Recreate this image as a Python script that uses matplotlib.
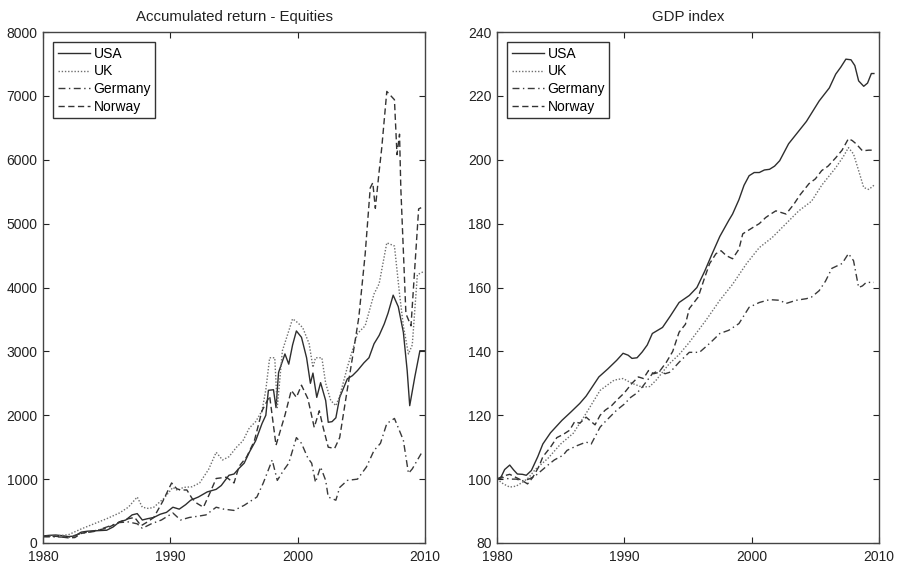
import matplotlib
matplotlib.use("Agg")
import matplotlib.pyplot as plt

plt.rcParams['font.family'] = ['Liberation Sans', 'DejaVu Sans']

# ---------------- Accumulated return - Equities ----------------
usa_eq_years = [1980, 1980.5, 1981, 1981.5, 1982, 1982.5, 1983, 1983.5, 1984, 1984.5, 1985, 1985.5,
                1986, 1986.5, 1987, 1987.4, 1987.8, 1988.2, 1988.7, 1989.2, 1989.7, 1990.2, 1990.7,
                1991.2, 1991.6, 1992.2, 1992.9, 1993.6, 1994, 1994.6, 1995, 1995.4, 1995.8, 1996.2,
                1996.7, 1997.2, 1997.5, 1997.7, 1998.1, 1998.3, 1998.5, 1999.0, 1999.3, 1999.6, 1999.9,
                2000.3, 2000.7, 2001.0, 2001.2, 2001.5, 2001.8, 2002.2, 2002.4, 2002.7, 2003.0, 2003.3,
                2003.9, 2004.3, 2004.7, 2005.2, 2005.6, 2006.0, 2006.4, 2006.8, 2007.1, 2007.5, 2007.9,
                2008.3, 2008.6, 2008.8, 2009.2, 2009.6, 2010]
usa_eq = [110, 120, 125, 115, 100, 110, 170, 185, 190, 195, 200, 250,
          330, 360, 440, 460, 360, 380, 400, 450, 480, 560, 530,
          600, 670, 720, 800, 840, 900, 1060, 1080, 1170, 1250, 1420,
          1600, 1870, 2000, 2390, 2400, 2120, 2670, 2960, 2800, 3100, 3320,
          3220, 2900, 2500, 2660, 2280, 2510, 2230, 1890, 1900, 1960, 2280,
          2570, 2620, 2700, 2820, 2900, 3120, 3250, 3430, 3600, 3880, 3700,
          3300, 2700, 2150, 2600, 3010, 3010]

uk_eq_years = [1980, 1981, 1982, 1983, 1984, 1985, 1986, 1986.7, 1987.4, 1987.8, 1988.3, 1988.7,
               1989.5, 1990.2, 1990.6, 1991.0, 1991.7, 1992.3, 1993.0, 1993.6, 1994.1, 1994.6, 1995.2,
               1995.7, 1996.2, 1996.7, 1997.2, 1997.5, 1997.8, 1998.2, 1998.4, 1998.8, 1999.3, 1999.6,
               2000.0, 2000.4, 2000.9, 2001.2, 2001.4, 2001.9, 2002.2, 2002.6, 2003.0, 2003.3, 2003.9,
               2004.7, 2005.3, 2006.0, 2006.4, 2007.0, 2007.6, 2008.0, 2008.3, 2008.7, 2009.0, 2009.4,
               2009.9]
uk_eq = [100, 110, 130, 220, 300, 380, 470, 560, 720, 560, 540, 560,
         700, 870, 820, 870, 880, 940, 1150, 1420, 1300, 1350, 1500,
         1600, 1800, 1900, 2070, 2400, 2900, 2900, 2120, 3010, 3320, 3510,
         3450, 3370, 3120, 2750, 2900, 2900, 2500, 2230, 2150, 2300, 2750,
         3280, 3400, 3900, 4060, 4700, 4650, 3900, 3400, 2960, 3100, 4200,
         4250]

germany_eq_years = [1980, 1981, 1982, 1983, 1984, 1985, 1986, 1986.7, 1987.4, 1987.8, 1988.5, 1989.3,
                    1990.2, 1990.8, 1991.5, 1992.2, 1992.8, 1993.6, 1994.2, 1995.0, 1995.8, 1996.8,
                    1997.3, 1998.0, 1998.4, 1998.9, 1999.3, 1999.9, 2000.3, 2000.8, 2001.1, 2001.4,
                    2001.8, 2002.2, 2002.4, 2003.0, 2003.3, 2003.9, 2004.7, 2005.4, 2006.0, 2006.5,
                    2007.0, 2007.6, 2008.3, 2008.7, 2009.0, 2009.7]
germany_eq = [100, 95, 90, 150, 180, 250, 320, 330, 300, 230, 300, 360,
              470, 360, 400, 420, 440, 560, 530, 510, 590, 720,
              940, 1300, 980, 1140, 1250, 1650, 1560, 1330, 1250, 950,
              1190, 980, 720, 670, 870, 980, 1000, 1190, 1450, 1560,
              1870, 1950, 1610, 1090, 1160, 1400]

norway_eq_years = [1980, 1981, 1982, 1982.5, 1983, 1984, 1985, 1986, 1986.7, 1987.2, 1987.7, 1988.2,
                   1988.7, 1989.4, 1990.1, 1990.5, 1990.8, 1991.3, 1991.7, 1992.1, 1992.6, 1993.1,
                   1993.6, 1994.4, 1995.0, 1995.4, 1996.0, 1996.6, 1997.2, 1997.8, 1998.3, 1998.7,
                   1999.0, 1999.5, 1999.9, 2000.3, 2000.8, 2001.3, 2001.7, 2002.0, 2002.4, 2002.9,
                   2003.3, 2003.8, 2004.3, 2004.8, 2005.3, 2005.7, 2005.9, 2006.1, 2006.4, 2006.6,
                   2007.0, 2007.6, 2007.8, 2008.0, 2008.1, 2008.5, 2008.9, 2009.5, 2009.7]
norway_eq = [100, 105, 80, 85, 150, 190, 230, 330, 380, 400, 270, 330,
             400, 650, 940, 850, 830, 830, 700, 620, 560, 780,
             1010, 1030, 940, 1200, 1350, 1600, 2070, 2300, 1530, 1800,
             2000, 2390, 2280, 2470, 2260, 1810, 2070, 1810, 1500, 1480,
             1650, 2280, 2900, 3530, 4520, 5560, 5640, 5240, 5820, 6180,
             7070, 6940, 6080, 6400, 5560, 3590, 3400, 5230, 5250]

# ---------------- GDP index ----------------
usa_gdp_years = [1980, 1980.3, 1980.6, 1981.0, 1981.3, 1981.6, 1982.0, 1982.3, 1982.7, 1983.2, 1983.6,
                 1984.2, 1985.1, 1985.8, 1986.5, 1987.0, 1987.5, 1988.0, 1988.7, 1989.4, 1989.9,
                 1990.3, 1990.6, 1991.0, 1991.4, 1991.8, 1992.2, 1993.0, 1993.6, 1994.3, 1995.1,
                 1995.7, 1996.3, 1996.9, 1997.5, 1998.2, 1998.5, 1999.0, 1999.4, 1999.8, 2000.2,
                 2000.6, 2001.0, 2001.4, 2001.8, 2002.2, 2002.9, 2003.6, 2004.3, 2005.3, 2006.1,
                 2006.6, 2007.0, 2007.4, 2007.8, 2008.1, 2008.4, 2008.8, 2009.1, 2009.4, 2009.6]
usa_gdp = [100, 100.5, 103, 104.4, 102.9, 101.6, 101.5, 101.2, 102.7, 107, 111,
           114.5, 118.4, 121, 123.7, 126, 129, 132, 134.5, 137.2, 139.4,
           138.8, 137.8, 138, 139.8, 142, 145.6, 147.5, 151, 155.3, 157.5,
           160, 165, 170.6, 176, 181, 183, 187.5, 192, 195, 196,
           196, 196.8, 197, 198, 199.7, 205, 208.5, 212, 218.4, 222.5,
           226.8, 229, 231.5, 231.3, 229.5, 224.7, 223, 224, 227, 227]

uk_gdp_years = [1980, 1980.5, 1981.0, 1981.5, 1982.0, 1982.5, 1983.0, 1984.0, 1985.0, 1986.0, 1987.0,
                1988.1, 1989.2, 1989.9, 1990.6, 1991.4, 1992.0, 1992.5, 1993.5, 1994.3, 1995.1,
                1996.4, 1997.5, 1998.5, 1999.6, 2000.6, 2001.6, 2002.7, 2003.7, 2004.7, 2005.5,
                2006.6, 2007.2, 2007.6, 2008.0, 2008.4, 2008.8, 2009.2, 2009.6]
uk_gdp = [100, 98.5, 97.5, 97.8, 99, 100.5, 103, 106.5, 111, 114.4, 120.6,
          127.8, 131, 131.5, 130, 128.8, 129, 131, 136, 139, 142.8,
          149.7, 156, 161, 167.5, 172.5, 175.6, 180, 184, 187, 192,
          197.5, 201, 203.8, 201.8, 196.6, 191.3, 190.7, 192]

germany_gdp_years = [1980, 1980.5, 1981, 1981.5, 1982, 1982.5, 1983.0, 1984.0, 1984.5, 1985.2, 1985.5,
                     1986.3, 1987.0, 1987.4, 1988.1, 1988.5, 1989.4, 1990.0, 1990.5, 1991.0, 1991.4,
                     1992.2, 1992.7, 1993.2, 1993.6, 1994.3, 1995.1, 1995.9, 1996.7, 1997.5, 1998.2,
                     1999.0, 1999.8, 2000.6, 2001.4, 2002.2, 2002.7, 2003.5, 2004.3, 2004.7, 2005.3,
                     2005.8, 2006.3, 2007.1, 2007.6, 2008.0, 2008.4, 2008.7, 2009.0, 2009.6]
germany_gdp = [100, 100.5, 100, 100, 99.5, 100, 101, 104.4, 106, 107.5, 109,
               110.5, 111.6, 111, 116.3, 118, 121.6, 123.5, 125.6, 127, 128.8,
               133, 134, 133, 133.5, 136.6, 139.7, 139.7, 142.5, 145.6, 146.6,
               148.7, 153.8, 155.3, 156.2, 156, 155, 156, 156.5, 157, 159,
               162, 166, 167.5, 170.6, 168.4, 160, 160.5, 161.6, 161.6]

norway_gdp_years = [1980, 1980.5, 1981, 1981.5, 1982.0, 1982.4, 1982.8, 1983.3, 1983.6, 1984.2, 1984.7,
                    1985.2, 1985.7, 1986.1, 1986.5, 1987.0, 1987.4, 1987.7, 1988.1, 1988.5, 1989.0,
                    1989.4, 1990.0, 1990.6, 1991.1, 1991.5, 1991.9, 1992.3, 1992.7, 1993.3, 1993.8,
                    1994.3, 1994.8, 1995.1, 1995.8, 1996.3, 1996.7, 1997.2, 1997.6, 1998.0, 1998.5,
                    1999.0, 1999.3, 2000.1, 2000.6, 2001.1, 2001.5, 2001.9, 2002.3, 2002.7, 2003.3,
                    2003.8, 2004.5, 2005.0, 2005.5, 2006.0, 2006.6, 2007.1, 2007.6, 2007.9, 2008.2,
                    2008.7, 2009.2, 2009.6]
norway_gdp = [100, 101, 101.5, 100.5, 99.5, 98.5, 100.5, 104, 107, 110, 113,
              114, 115.3, 118, 117.5, 119.4, 118, 117, 120, 121.6, 123,
              124.7, 127, 130, 132, 131.5, 134, 133, 133.4, 136.6, 140,
              146, 148.5, 153.4, 157, 163, 167.5, 170.6, 171.5, 170, 169,
              172, 176.8, 178.8, 180, 181.9, 183, 184, 183.5, 183, 186,
              189, 192.5, 194, 196.6, 198, 200.6, 203, 206.6, 206, 205,
              202.8, 203, 203]

labels = ["USA", "UK", "Germany", "Norway"]
styles = [
    dict(color="#2e2e2e", linestyle="-", linewidth=1.0),
    dict(color="#6e6e6e", linestyle=(0, (1, 1.3)), linewidth=1.0),
    dict(color="#3a3a3a", linestyle=(0, (5, 2.5, 1, 2.5)), linewidth=1.0),
    dict(color="#333333", linestyle=(0, (4.5, 2.5)), linewidth=1.0),
]

fig = plt.figure(figsize=(8.99, 5.66), dpi=100)
ax1 = fig.add_axes([43 / 899, 23 / 566, 382 / 899, 511 / 566])
ax2 = fig.add_axes([497 / 899, 23 / 566, 382 / 899, 511 / 566])

eq_data = [(usa_eq_years, usa_eq), (uk_eq_years, uk_eq),
           (germany_eq_years, germany_eq), (norway_eq_years, norway_eq)]
gdp_data = [(usa_gdp_years, usa_gdp), (uk_gdp_years, uk_gdp),
            (germany_gdp_years, germany_gdp), (norway_gdp_years, norway_gdp)]

for ax, data, title, ylim, yticks in [
    (ax1, eq_data, "Accumulated return - Equities", (0, 8000), range(0, 8001, 1000)),
    (ax2, gdp_data, "GDP index", (80, 240), range(80, 241, 20)),
]:
    for (x, y), lab, st in zip(data, labels, styles):
        ax.plot(x, y, label=lab, **st)
    ax.set_xlim(1980, 2010)
    ax.set_ylim(*ylim)
    ax.set_xticks([1980, 1990, 2000, 2010])
    ax.set_yticks(list(yticks))
    ax.set_title(title, fontsize=10.8, color="#222222", pad=8)
    ax.tick_params(direction="in", length=4, width=0.8, top=True, right=True,
                   labelsize=10, colors="#222222")
    ax.tick_params(axis="x", pad=5)
    ax.tick_params(axis="y", pad=4)
    for sp in ax.spines.values():
        sp.set_color("#444444")
        sp.set_linewidth(1.0)
    leg = ax.legend(loc="upper left", fontsize=10, frameon=True, fancybox=False,
                    borderaxespad=0.75, borderpad=0.3, labelspacing=0.28,
                    handlelength=2.3, handletextpad=0.3)
    leg.get_frame().set_edgecolor("#333333")
    leg.get_frame().set_linewidth(1.0)
    leg.get_frame().set_alpha(1)

fig.savefig("out.png", dpi=100)
